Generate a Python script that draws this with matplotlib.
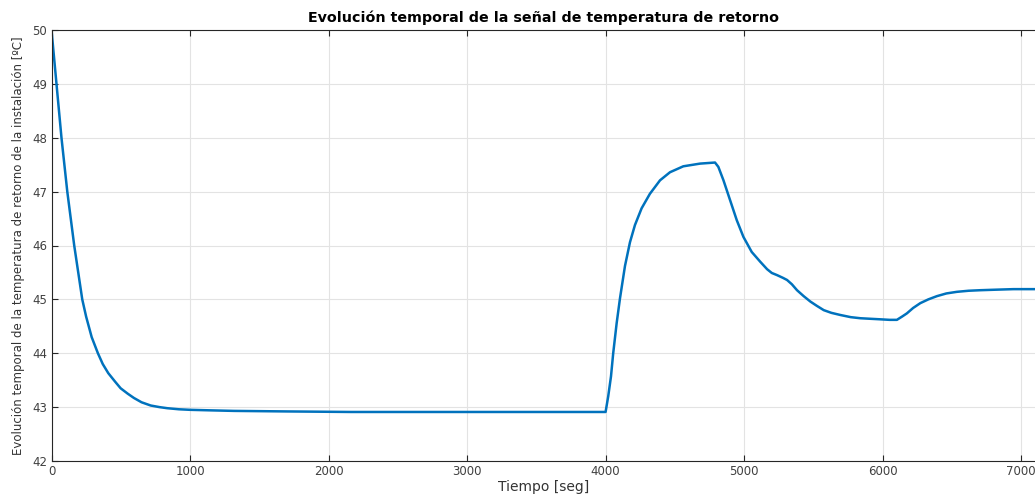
# Evolución temporal de la temperatura de retorno
import numpy as np
import matplotlib.pyplot as plt

# Datos
tiempo = [0, 36, 72, 114, 164, 222, 250, 290, 335, 370, 410, 460, 499, 550, 595, 650,
          716, 780, 836, 920, 1000, 1150, 1318, 1700, 2162, 3000, 4000,
          4019, 4039, 4055, 4080, 4104, 4140, 4176, 4212, 4260, 4320, 4393, 4465,
          4561, 4682, 4790, 4814, 4851, 4899, 4947, 4995, 5055, 5116,
          5166, 5200, 5238, 5280, 5310, 5345, 5382, 5430, 5478, 5525, 5575, 5630,
          5695, 5770, 5839, 5910, 5983, 6050, 6103, 6140, 6175, 6220, 6272, 6330,
          6392, 6460, 6536, 6620, 6704, 6820, 6945, 7101]
temperatura = [50.0, 49.0, 48.0, 47.0, 46.0, 45.0, 44.68, 44.3, 44.0, 43.8, 43.63, 43.47, 43.35, 43.25, 43.17, 43.09,
               43.03, 43.0, 42.98, 42.96, 42.95, 42.94, 42.93, 42.92, 42.91, 42.91, 42.91,
               43.20, 43.57, 44.0, 44.56, 45.02, 45.62, 46.06, 46.38, 46.69, 46.96, 47.21, 47.36,
               47.47, 47.52, 47.54, 47.46, 47.21, 46.84, 46.47, 46.16, 45.88, 45.70,
               45.56, 45.49, 45.45, 45.40, 45.36, 45.28, 45.17, 45.06, 44.96, 44.88, 44.80, 44.75,
               44.71, 44.67, 44.65, 44.64, 44.63, 44.62, 44.62, 44.68, 44.74, 44.84, 44.93, 45.0,
               45.06, 45.11, 45.14, 45.16, 45.17, 45.18, 45.19, 45.19]

xticks = [0, 1000, 2000, 3000, 4000, 5000, 6000, 7000]
yticks = [42, 43, 44, 45, 46, 47, 48, 49, 50]

gris = '#262626'

fig = plt.figure(figsize=(10.35, 4.95), dpi=100)
ax = fig.add_axes([51.5 / 1035, 34 / 495, 1 - 51.5 / 1035, 431 / 495])

ax.plot(tiempo, temperatura, color='#0072BD', linewidth=1.8,
        solid_joinstyle='round', solid_capstyle='round')

ax.set_xlim(0, 7100)
ax.set_ylim(42, 50)
ax.set_xticks(xticks)
ax.set_yticks(yticks)
ax.grid(True, color='#e3e3e3', linewidth=0.8)
ax.set_axisbelow(True)

ax.tick_params(direction='in', length=4, width=0.8, colors=gris,
               labelcolor='#404040', labelsize=8.5, top=True, pad=3)
for lado in ['left', 'bottom', 'top']:
    ax.spines[lado].set_color(gris)
    ax.spines[lado].set_linewidth(0.8)
ax.spines['right'].set_visible(False)

ax.set_title('Evolución temporal de la señal de temperatura de retorno',
             fontsize=10.3, fontweight='bold', pad=6)
ax.set_xlabel('Tiempo [seg]', fontsize=10, color='#333333')
ax.set_ylabel('Evolución temporal de la temperatura de retorno de la instalación [ºC]',
              fontsize=8.5, color='#333333')
ax.xaxis.set_label_coords(0.5, -0.044)
ax.yaxis.set_label_coords(-0.027, 0.5)

plt.savefig('out.png', dpi=100)
